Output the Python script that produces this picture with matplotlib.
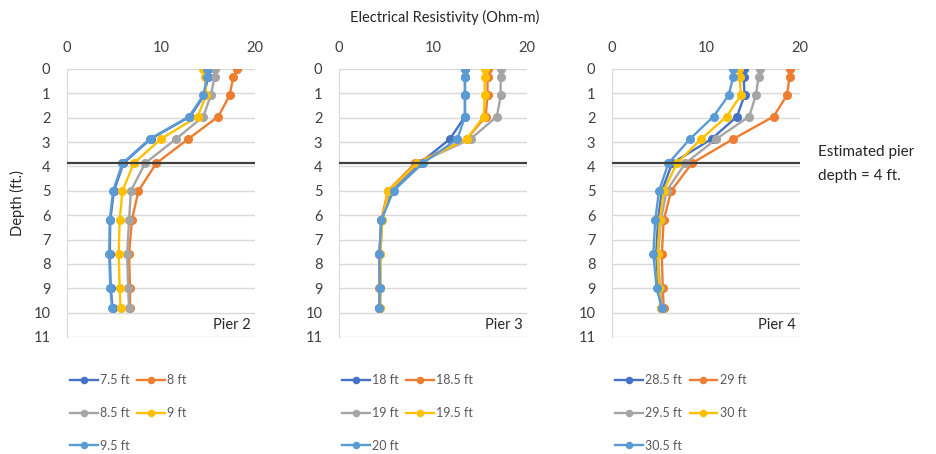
# Resistivity vs depth profiles for three piers, with estimated pier depth line.
import matplotlib
matplotlib.use("Agg")
import matplotlib.pyplot as plt

plt.rcParams["font.family"] = ["Lato", "DejaVu Sans"]

depth = [0, 0.32, 1.08, 1.95, 2.87, 3.87, 5.0, 6.2, 7.6, 9.0, 9.8]
pier_depth = 3.85

colors = ["#4472C4", "#ED7D31", "#A5A5A5", "#FFC000", "#5B9BD5"]

pier2_labels = ["7.5 ft", "8 ft", "8.5 ft", "9 ft", "9.5 ft"]
pier2 = [
    [15.0, 15.0, 14.6, 13.1, 8.9, 6.0, 5.0, 4.6, 4.55, 4.65, 4.85],
    [18.1, 17.7, 17.3, 16.1, 12.9, 9.5, 7.6, 6.9, 6.6, 6.7, 6.7],
    [15.7, 15.7, 15.3, 14.5, 11.6, 8.3, 6.8, 6.6, 6.4, 6.5, 6.6],
    [14.5, 14.7, 14.8, 13.9, 10.0, 7.1, 5.9, 5.6, 5.5, 5.6, 5.7],
    [14.9, 14.9, 14.5, 13.0, 8.8, 5.9, 4.9, 4.55, 4.5, 4.6, 4.8],
]

pier3_labels = ["18 ft", "18.5 ft", "19 ft", "19.5 ft", "20 ft"]
pier3 = [
    [13.4, 13.4, 13.4, 13.4, 11.8, 8.6, 5.6, 4.5, 4.3, 4.35, 4.3],
    [15.8, 15.8, 15.8, 15.6, 13.6, 8.1, 5.2, 4.5, 4.3, 4.3, 4.3],
    [17.2, 17.2, 17.2, 16.8, 14.0, 8.4, 5.4, 4.6, 4.4, 4.4, 4.4],
    [15.5, 15.5, 15.5, 15.4, 13.6, 8.3, 5.25, 4.6, 4.4, 4.4, 4.35],
    [13.4, 13.4, 13.4, 13.4, 12.6, 8.9, 5.8, 4.5, 4.3, 4.35, 4.3],
]

pier4_labels = ["28.5 ft", "29 ft", "29.5 ft", "30 ft", "30.5 ft"]
pier4 = [
    [14.0, 14.0, 14.1, 13.3, 10.6, 6.4, 5.3, 4.9, 4.7, 4.95, 5.2],
    [18.9, 18.9, 18.6, 17.2, 12.9, 8.5, 6.3, 5.5, 5.3, 5.4, 5.5],
    [15.7, 15.6, 15.3, 14.6, 11.1, 7.8, 5.8, 5.2, 4.9, 5.1, 5.3],
    [13.5, 13.6, 13.7, 12.2, 9.5, 6.9, 5.5, 5.1, 4.85, 5.0, 5.2],
    [12.9, 12.9, 12.4, 10.8, 8.3, 6.0, 5.0, 4.6, 4.4, 4.75, 5.3],
]

panels = [
    ("Pier 2", pier2_labels, pier2, 67),
    ("Pier 3", pier3_labels, pier3, 339),
    ("Pier 4", pier4_labels, pier4, 612),
]

W, H = 937, 454
fig = plt.figure(figsize=(W / 100, H / 100), dpi=100)
text_col = "#404040"

for name, labels, series, left_px in panels:
    ax = fig.add_axes([left_px / W, 1 - 337 / H, 188 / W, 268 / H])
    handles = []
    for lab, vals, c in zip(labels, series, colors):
        h, = ax.plot(vals, depth, "-o", color=c, lw=1.7, ms=5.5, label=lab)
        handles.append(h)
    ax.axhline(pier_depth, color="#404040", lw=1.6, zorder=5)
    ax.set_xlim(0, 20)
    ax.set_ylim(11, 0)
    ax.set_xticks([0, 10, 20])
    ax.set_yticks(range(0, 12))
    ax.xaxis.tick_top()
    ax.tick_params(length=0, labelsize=10.5, labelcolor=text_col)
    ax.tick_params(axis="y", pad=12)
    ax.tick_params(axis="x", pad=10)
    ax.grid(axis="y", color="#D9D9D9", lw=1)
    ax.set_axisbelow(True)
    for s in ["top", "right", "bottom"]:
        ax.spines[s].set_visible(False)
    ax.spines["left"].set_color("#D9D9D9")
    ax.text(0.975, 0.045, name, transform=ax.transAxes, ha="right", va="center",
            fontsize=10.5, color="#262626")
    # legend filled row by row, like the original
    order = [0, 2, 4, 1, 3]
    ax.legend([handles[i] for i in order], [labels[i] for i in order],
              loc="upper left", bbox_to_anchor=((left_px - 8) / W, 1 - 363 / H),
              bbox_transform=fig.transFigure, ncol=2, frameon=False, fontsize=9,
              handlelength=2.2, handletextpad=0.2, columnspacing=0.6,
              labelspacing=1.65, markerscale=0.8, labelcolor="#595959")
    if name == "Pier 2":
        ax.set_ylabel("Depth (ft.)", fontsize=10.5, color="#262626", labelpad=6)

fig.text(445 / W, 1 - 17 / H, "Electrical Resistivity (Ohm-m)", ha="center",
         va="center", fontsize=10.5, color="#262626")
fig.text(818 / W, 1 - 152 / H, "Estimated pier", ha="left", va="center",
         fontsize=11, color="#262626")
fig.text(818 / W, 1 - 176 / H, "depth = 4 ft.", ha="left", va="center",
         fontsize=11, color="#262626")

fig.savefig("out.png", dpi=100)
